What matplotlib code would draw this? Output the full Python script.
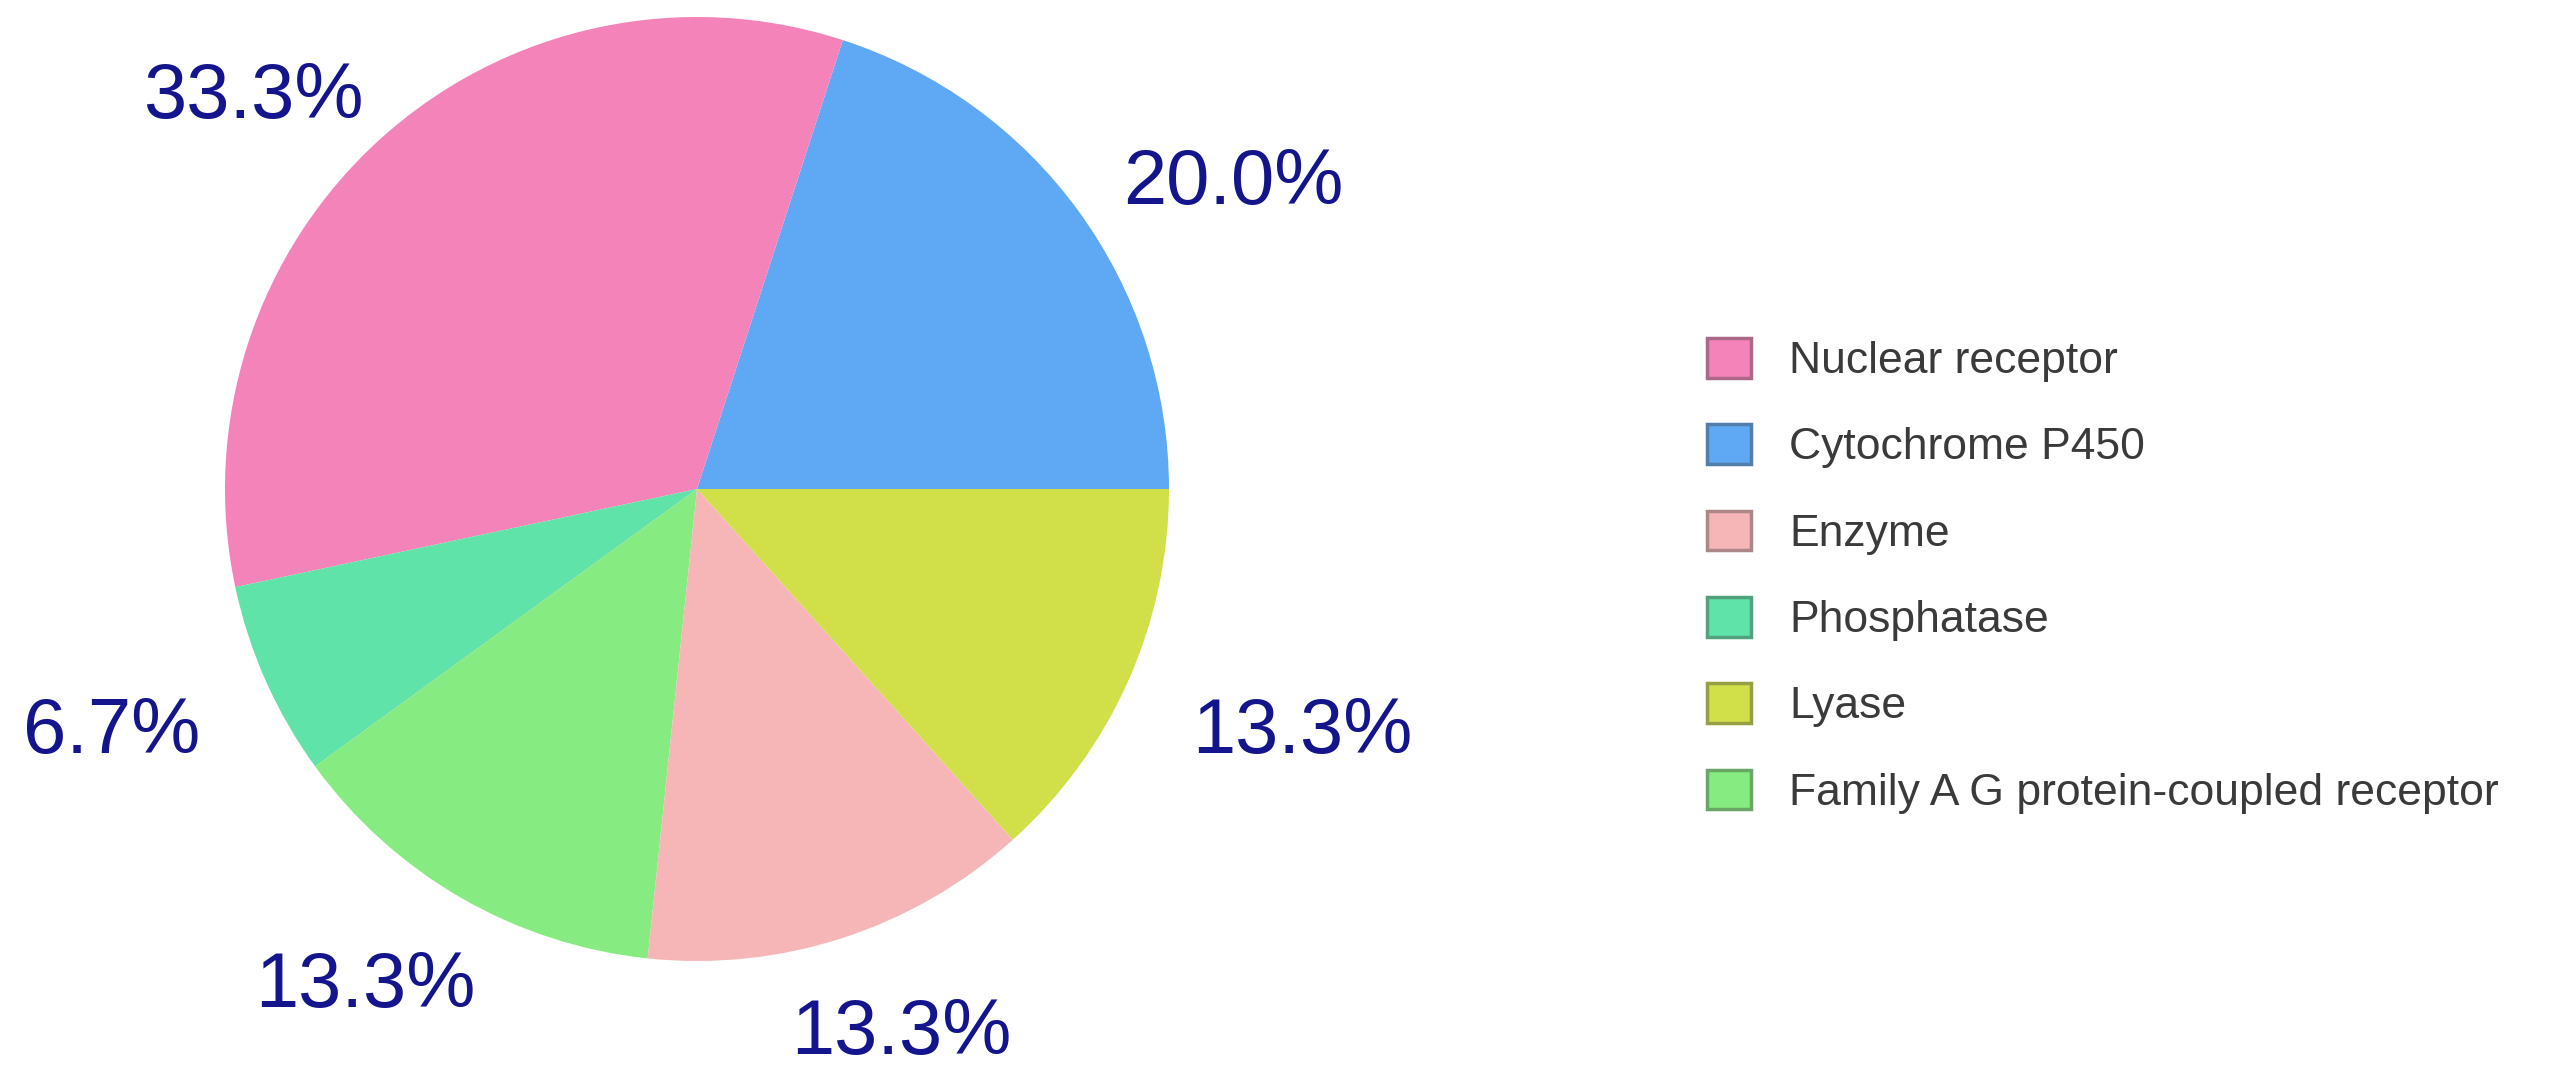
import numpy as np
import matplotlib.pyplot as plt
from matplotlib.patches import Patch
from matplotlib.colors import to_rgb

plt.rcParams['font.family'] = ['Liberation Sans', 'DejaVu Sans']

# pie order (counter-clockwise from 3 o'clock)
labels = ['Cytochrome P450', 'Nuclear receptor', 'Phosphatase',
          'Family A G protein-coupled receptor', 'Enzyme', 'Lyase']
counts = [3, 5, 1, 2, 2, 2]
colors = ['#5FA8F3', '#F383B9', '#5FE3A8', '#86EB80', '#F6B6B7', '#D1DF48']

legend_order = ['Nuclear receptor', 'Cytochrome P450', 'Enzyme',
                'Phosphatase', 'Lyase', 'Family A G protein-coupled receptor']

W, H = 2571, 1091
fig = plt.figure(figsize=(W / 100, H / 100), dpi=100)

cx, cy, r = 697, H - 489, 472
ax = fig.add_axes([(cx - r) / W, (cy - r) / H, 2 * r / W, 2 * r / H])
wedges, _ = ax.pie(counts, colors=colors, startangle=0, counterclock=True,
                   radius=1, wedgeprops=dict(linewidth=0))
ax.set_xlim(-1, 1)
ax.set_ylim(-1, 1)
ax.axis('off')

# percentage labels outside, pushed outward like ggplot-style hjust
fs = 56
cap = fs / 72 * 100 * 0.716
total = sum(counts)
texts = []
for w, c in zip(wedges, counts):
    th = np.deg2rad((w.theta1 + w.theta2) / 2)
    x, y = 1.17 * np.cos(th), 1.17 * np.sin(th)
    t = ax.text(x, y - (cap / 2 + 12) / r, '%.1f%%' % (100 * c / total),
                fontsize=fs, color='#14148C', ha='left', va='baseline')
    texts.append((t, np.cos(th), x))

fig.canvas.draw()
rend = fig.canvas.get_renderer()
for t, ct, x in texts:
    wpx = t.get_window_extent(rend).width
    hj = 0.5 - 0.5 * ct
    t.set_x(x - hj * wpx / r)

def darker(c, f=0.6):
    return tuple(v * f + 0.1 for v in to_rgb(c))

cmap = dict(zip(labels, colors))
handles = [Patch(facecolor=cmap[n], edgecolor=darker(cmap[n]), linewidth=2.5)
           for n in legend_order]
fig.legend(handles, legend_order, loc='upper left',
           bbox_to_anchor=(1707 / W, 1 - 338 / H), frameon=False,
           fontsize=32, handlelength=1.0, handleheight=1.0,
           handletextpad=0.85, labelspacing=0.95, labelcolor='#3a3a3a',
           borderaxespad=0, borderpad=0)

fig.savefig('out.png', dpi=100, facecolor='white')
